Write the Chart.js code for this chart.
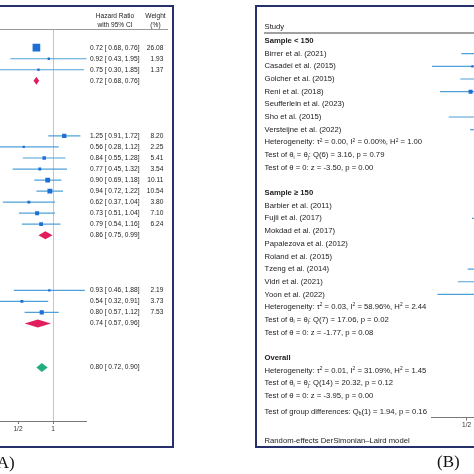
<!DOCTYPE html>
<html><head><meta charset="utf-8">
<script src="https://cdn.jsdelivr.net/npm/chart.js@4.4.1/dist/chart.umd.min.js"></script>
<style>
html,body{margin:0;padding:0;background:#fff;overflow:hidden;}
#wrap{position:relative;width:474px;height:474px;overflow:hidden;background:#fff;}
#wrap canvas{position:absolute;top:0;}
.frame{position:absolute;box-sizing:border-box;border:2px solid #26306a;}
.hline{position:absolute;height:0;}
.plabel{position:absolute;font-family:"Liberation Serif","Times New Roman",serif;font-size:17px;line-height:17px;color:#111;white-space:nowrap;}
</style></head><body>
<div id="wrap">
  <div class="frame" style="left:-10px;top:5px;width:184px;height:443px;"></div>
  <div class="frame" style="left:255px;top:5px;width:300px;height:443px;"></div>
  <div class="hline" style="left:-10px;top:29px;width:178px;border-top:1px solid #9a9a9a;"></div>
  <div class="hline" style="left:264px;top:32px;width:230px;border-top:2px solid #a0a0a0;"></div>
  <canvas id="ca" width="240" height="474" style="left:-40px;width:240px;height:474px"></canvas>
  <canvas id="cb" width="360" height="474" style="left:240px;width:360px;height:474px"></canvas>
  <div class="plabel" style="left:-9px;top:454px;">(A)</div>
  <div class="plabel" style="left:437px;top:453px;">(B)</div>
</div>
<script>
const SANS = '"Liberation Sans", Arial, Helvetica, sans-serif';

// ---------- Panel A data ----------
const aHR     = [0.72, 0.92, 0.75, 1.25, 0.56, 0.84, 0.77, 0.90, 0.94, 0.62, 0.73, 0.79, 0.93, 0.54, 0.80];
const aLo     = [0.68, 0.43, 0.30, 0.91, 0.28, 0.55, 0.45, 0.69, 0.72, 0.37, 0.51, 0.54, 0.46, 0.32, 0.57];
const aHi     = [0.76, 1.95, 1.85, 1.72, 1.12, 1.28, 1.32, 1.18, 1.22, 1.04, 1.04, 1.16, 1.88, 0.91, 1.12];
const aWeight = [26.08, 1.93, 1.37, 8.20, 2.25, 5.41, 3.54, 10.11, 10.54, 3.80, 7.10, 6.24, 2.19, 3.73, 7.53];
const aRow    = [0, 1, 2, 8, 9, 10, 11, 12, 13, 14, 15, 16, 22, 23, 24];
const aPoolHR   = [0.72, 0.86, 0.74, 0.80];
const aPoolLo   = [0.68, 0.75, 0.57, 0.72];
const aPoolHi   = [0.76, 0.99, 0.96, 0.90];
const aPoolRow  = [3, 17, 25, 29];
const aPoolKind = ['group', 'group', 'group', 'overall'];
const aTickVals   = [0.5, 1];
const aTickLabels = ['1/2', '1'];

// ---------- Panel B data ----------
const bStudy = ['Birrer et al. (2021)', 'Casadei et al. (2015)', 'Golcher et al. (2015)', 'Reni et al. (2018)',
  'Seufferlein et al. (2023)', 'Sho et al. (2015)', 'Versteijne et al. (2022)',
  'Barbier et al. (2011)', 'Fujii et al. (2017)', 'Mokdad et al. (2017)', 'Papalezova et al. (2012)',
  'Roland et al. (2015)', 'Tzeng et al. (2014)', 'Vidri et al. (2021)', 'Yoon et al. (2022)'];
const bHR     = [0.75, 0.56, 0.80, 0.54, 0.85, 0.72, 0.78, 0.92, 0.86, 1.05, 0.88, 1.10, 0.80, 0.71, 0.60];
const bLo     = [0.45, 0.25, 0.44, 0.295, 0.62, 0.35, 0.534, 0.65, 0.555, 0.70, 0.66, 0.75, 0.51, 0.42, 0.28];
const bHi     = [1.24, 1.27, 1.46, 0.99, 1.17, 1.47, 1.14, 1.30, 1.34, 1.57, 1.17, 1.61, 1.25, 1.20, 1.28];
const bWeight = [5, 2.3, 4, 7, 15, 3, 9, 8, 6, 5, 12, 6, 7, 5, 3];
const bRow    = [1, 2, 3, 4, 5, 6, 7, 13, 14, 15, 16, 17, 18, 19, 20];
const bPoolHR   = [0.71, 0.86, 0.78];
const bPoolLo   = [0.60, 0.72, 0.69];
const bPoolHi   = [0.84, 1.02, 0.88];
const bPoolRow  = [8, 21, 26];
const bPoolKind = ['group', 'group', 'overall'];
const bTitle    = ['Sample < 150', 'Sample \u2265 150', 'Overall'];
const bTitleRow = [0, 12, 25];
const bHet    = ['Heterogeneity: \u03c4^{2} = 0.00, I^{2} = 0.00%, H^{2} = 1.00',
                 'Heterogeneity: \u03c4^{2} = 0.03, I^{2} = 58.96%, H^{2} = 2.44',
                 'Heterogeneity: \u03c4^{2} = 0.01, I^{2} = 31.09%, H^{2} = 1.45'];
const bHetRow = [8, 21, 26];
const bHom    = ['Test of \u03b8_{i} = \u03b8_{j}: Q(6) = 3.16, p = 0.79',
                 'Test of \u03b8_{i} = \u03b8_{j}: Q(7) = 17.06, p = 0.02',
                 'Test of \u03b8_{i} = \u03b8_{j}: Q(14) = 20.32, p = 0.12'];
const bHomRow = [9, 22, 27];
const bZ      = ['Test of \u03b8 = 0: z = -3.50, p = 0.00',
                 'Test of \u03b8 = 0: z = -1.77, p = 0.08',
                 'Test of \u03b8 = 0: z = -3.95, p = 0.00'];
const bZRow   = [10, 23, 28];
const bDiff    = 'Test of group differences: Q_{b}(1) = 1.94, p = 0.16';
const bDiffRow = 29.25;
const bHeader  = 'Study';
const bNote    = 'Random-effects DerSimonian\u2013Laird model';
const bTickVals   = [0.5, 1];
const bTickLabels = ['1/2', '1'];

// ---------- styles ----------
const CI_COLOR = '#4fa0d8';
const SQ_COLOR = '#1c6fd6';
const GROUP_COLOR = '#e21d5b';
const OVERALL_COLOR = '#22ad80';
const REF_COLOR = '#bcc6d6';
const AXIS_COLOR = '#7a7a7a';
const TEXT_COLOR = '#1b1b1b';

function drawRich(ctx, str, x, y, size, weight, align) {
  const parts = str.split(/(_\{[^}]*\}|\^\{[^}]*\})/).filter(s => s.length);
  const segs = parts.map(p => {
    if (p.startsWith('_{')) return {t: p.slice(2, -1), s: size * 0.64, dy: size * 0.28};
    if (p.startsWith('^{')) return {t: p.slice(2, -1), s: size * 0.64, dy: -size * 0.26};
    return {t: p, s: size, dy: 0};
  });
  let total = 0;
  segs.forEach(g => { ctx.font = `${weight} ${g.s}px ${SANS}`; g.w = ctx.measureText(g.t).width; total += g.w; });
  let cx = align === 'center' ? x - total / 2 : align === 'right' ? x - total : x;
  ctx.textAlign = 'left';
  ctx.textBaseline = 'middle';
  ctx.fillStyle = TEXT_COLOR;
  segs.forEach(g => { ctx.font = `${weight} ${g.s}px ${SANS}`; ctx.fillText(g.t, cx, y + g.dy); cx += g.w; });
}

function buildPanel(canvasId, P) {
  const canvas = document.getElementById(canvasId);
  const W = canvas.width, H = canvas.height;
  const xMin = Math.min(...P.lo, ...P.poolLo);
  const xMax = Math.max(...P.hi, ...P.poolHi);
  const pageX = v => P.onePx + P.dblPx * Math.log2(v);
  const padLeft = pageX(xMin) - P.offset;
  const padRight = W - (pageX(xMax) - P.offset);
  const yMin = (P.areaTop - P.row0) / P.rowH;
  const yMax = (P.areaBottom - P.row0) / P.rowH;
  const axisH = H - P.areaBottom;

  const datasets = [];
  datasets.push({
    data: P.hr.map((h, i) => ({x: h, y: P.row[i]})),
    pointStyle: 'rect',
    pointRadius: P.weight.map(w => Math.max(2.3, P.sqK * Math.sqrt(w)) / Math.SQRT2),
    backgroundColor: SQ_COLOR,
    borderWidth: 0,
    showLine: false
  });
  P.hr.forEach((h, i) => {
    datasets.push({
      data: [{x: P.lo[i], y: P.row[i]}, {x: P.hi[i], y: P.row[i]}],
      showLine: true, borderColor: CI_COLOR, borderWidth: 1.2, pointRadius: 0
    });
  });

  const plugin = {
    id: 'forest_' + canvasId,
    beforeDatasetsDraw(chart) {
      const {ctx, chartArea, scales} = chart;
      const x1 = Math.round(scales.x.getPixelForValue(1)) + 0.5;
      ctx.save();
      ctx.strokeStyle = REF_COLOR; ctx.lineWidth = 1;
      ctx.beginPath(); ctx.moveTo(x1, chartArea.top); ctx.lineTo(x1, chartArea.bottom); ctx.stroke();
      ctx.restore();
    },
    afterDatasetsDraw(chart) {
      const {ctx, scales} = chart;
      ctx.save();
      P.poolHR.forEach((h, i) => {
        const y = scales.y.getPixelForValue(P.poolRow[i]);
        const xl = scales.x.getPixelForValue(P.poolLo[i]);
        const xc = scales.x.getPixelForValue(h);
        const xr = scales.x.getPixelForValue(P.poolHi[i]);
        const hh = P.poolKind[i] === 'overall' ? P.diaH + 0.5 : P.diaH;
        ctx.fillStyle = P.poolKind[i] === 'overall' ? OVERALL_COLOR : GROUP_COLOR;
        ctx.beginPath();
        ctx.moveTo(xl, y); ctx.lineTo(xc, y - hh); ctx.lineTo(xr, y); ctx.lineTo(xc, y + hh); ctx.closePath();
        ctx.fill();
      });
      ctx.restore();
    },
    afterDraw(chart) {
      const {ctx, scales} = chart;
      ctx.save();
      P.drawText(ctx, r => scales.y.getPixelForValue(r), px => px - P.offset);
      ctx.restore();
    }
  };

  return new Chart(canvas, {
    type: 'scatter',
    data: {datasets},
    options: {
      responsive: false, animation: false, devicePixelRatio: 1, events: [],
      layout: {padding: {left: padLeft, right: padRight, top: P.areaTop, bottom: 0}},
      plugins: {legend: {display: false}, tooltip: {enabled: false}},
      scales: {
        x: {
          type: 'logarithmic', position: 'bottom', min: xMin, max: xMax,
          afterBuildTicks: s => { s.ticks = P.tickVals.map(v => ({value: v})); },
          afterFit: s => { s.height = axisH; },
          ticks: {
            callback: (v, i) => P.tickLabels[i],
            font: {family: SANS, size: 6.6}, color: '#333', padding: 1,
            maxRotation: 0, autoSkip: false
          },
          grid: {drawOnChartArea: false, drawTicks: true, tickLength: 3, color: AXIS_COLOR},
          border: {display: true, color: AXIS_COLOR, width: 1}
        },
        y: {type: 'linear', min: yMin, max: yMax, reverse: true, display: false}
      }
    },
    plugins: [plugin]
  });
}

const fmt = v => v.toFixed(2);

// Panel A
buildPanel('ca', {
  hr: aHR, lo: aLo, hi: aHi, weight: aWeight, row: aRow,
  poolHR: aPoolHR, poolLo: aPoolLo, poolHi: aPoolHi, poolRow: aPoolRow, poolKind: aPoolKind,
  tickVals: aTickVals, tickLabels: aTickLabels,
  offset: -40, onePx: 53, dblPx: 35, row0: 47.7, rowH: 11.03, areaTop: 30, areaBottom: 421,
  sqK: 1.5, diaH: 4,
  drawText(ctx, ry, cx) {
    const fs = 6.6;
    drawRich(ctx, 'Hazard Ratio', cx(115), 16, fs, 'normal', 'center');
    drawRich(ctx, 'with 95% CI', cx(115), 25, fs, 'normal', 'center');
    drawRich(ctx, 'Weight', cx(155.5), 16, fs, 'normal', 'center');
    drawRich(ctx, '(%)', cx(155.5), 25, fs, 'normal', 'center');
    aHR.forEach((h, i) => {
      const y = ry(aRow[i]);
      drawRich(ctx, `${fmt(h)} [ ${fmt(aLo[i])}, ${fmt(aHi[i])}]`, cx(90), y, fs, 'normal', 'left');
      drawRich(ctx, fmt(aWeight[i]), cx(163.3), y, fs, 'normal', 'right');
    });
    aPoolHR.forEach((h, i) => {
      drawRich(ctx, `${fmt(h)} [ ${fmt(aPoolLo[i])}, ${fmt(aPoolHi[i])}]`, cx(90), ry(aPoolRow[i]), fs, 'normal', 'left');
    });
  }
});

// Panel B
buildPanel('cb', {
  hr: bHR, lo: bLo, hi: bHi, weight: bWeight, row: bRow,
  poolHR: bPoolHR, poolLo: bPoolLo, poolHi: bPoolHi, poolRow: bPoolRow, poolKind: bPoolKind,
  tickVals: bTickVals, tickLabels: bTickLabels,
  offset: 240, onePx: 501.7, dblPx: 35, row0: 41.0, rowH: 12.67, areaTop: 32.5, areaBottom: 417.5,
  sqK: 1.5, diaH: 4.5,
  drawText(ctx, ry, cx) {
    const fs = 7.7, x0 = cx(264.5);
    drawRich(ctx, bHeader, x0, 27.3, fs, 'normal', 'left');
    bTitle.forEach((t, i) => drawRich(ctx, t, x0, ry(bTitleRow[i]), fs, 'bold', 'left'));
    bStudy.forEach((t, i) => drawRich(ctx, t, x0, ry(bRow[i]), fs, 'normal', 'left'));
    bHet.forEach((t, i) => drawRich(ctx, t, x0, ry(bHetRow[i]), fs, 'normal', 'left'));
    bHom.forEach((t, i) => drawRich(ctx, t, x0, ry(bHomRow[i]), fs, 'normal', 'left'));
    bZ.forEach((t, i) => drawRich(ctx, t, x0, ry(bZRow[i]), fs, 'normal', 'left'));
    drawRich(ctx, bDiff, x0, ry(bDiffRow), fs, 'normal', 'left');
    drawRich(ctx, bNote, x0, 440.7, fs, 'normal', 'left');
  }
});
</script>
</body></html>
